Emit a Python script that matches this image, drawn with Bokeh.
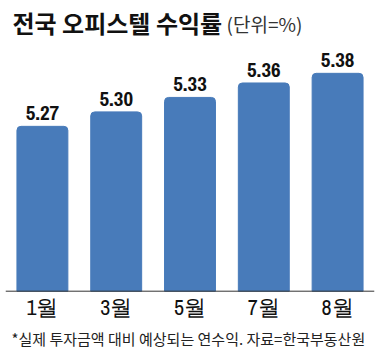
from bokeh.plotting import figure
from bokeh.models import ColumnDataSource, LabelSet, Label, Range1d, FactorRange, Span
from bokeh.core.properties import value
from bokeh.embed import file_html
from bokeh.resources import INLINE

months = ["1월", "3월", "5월", "7월", "8월"]
yields = [5.27, 5.30, 5.33, 5.36, 5.38]
value_labels = ["5.27", "5.30", "5.33", "5.36", "5.38"]
title_main = "전국 오피스텔 수익률"
title_unit = "(단위=%)"
footnote = "*실제 투자금액 대비 예상되는 연수익. 자료=한국부동산원"

BASE = 4.928
DIGITS = "Archivo Narrow"
KR = "Noto Sans CJK KR"

src = ColumnDataSource(dict(m=months, v=yields, lab=value_labels, base=[BASE] * len(months)))

p = figure(width=378, height=352, x_range=FactorRange(*months, range_padding=0),
           y_range=Range1d(4.8008, 5.5311), output_backend="svg", toolbar_location=None,
           min_border_left=5, min_border_right=4, min_border_top=0, min_border_bottom=0)
p.outline_line_color = None
p.background_fill_color = "white"
p.border_fill_color = "white"
p.grid.visible = False
p.axis.visible = False

p.vbar(x="m", top="v", bottom=BASE, width=0.69, source=src, color="#487bba",
       border_radius=(4, 4, 0, 0))
p.add_layout(Span(location=BASE, dimension="width", line_color="#333333", line_width=1))

p.add_layout(LabelSet(x="m", y="v", text="lab", source=src, y_offset=6,
                      text_align="center", text_baseline="alphabetic",
                      text_font=value(DIGITS), text_font_size="21px", text_font_style="bold",
                      text_color="#111111"))
p.add_layout(LabelSet(x="m", y="base", text="m", source=src, y_offset=-16,
                      text_align="center", text_baseline="middle",
                      text_font=value(DIGITS), text_font_size="22px",
                      text_color="#111111"))

p.add_layout(Label(x=7, y=330.5, x_units="screen", y_units="screen", text=title_main,
                   text_font=KR, text_font_size="24px", text_font_style="bold",
                   text_baseline="middle", text_color="#111111"))
p.add_layout(Label(x=221, y=329.5, x_units="screen", y_units="screen", text=title_unit,
                   text_font=KR, text_font_size="19px",
                   text_baseline="middle", text_color="#333333"))
p.add_layout(Label(x=6, y=14, x_units="screen", y_units="screen", text=footnote,
                   text_font=KR, text_font_size="15px",
                   text_baseline="middle", text_color="#222222"))

open("out.html", "w").write(file_html(p, INLINE))
